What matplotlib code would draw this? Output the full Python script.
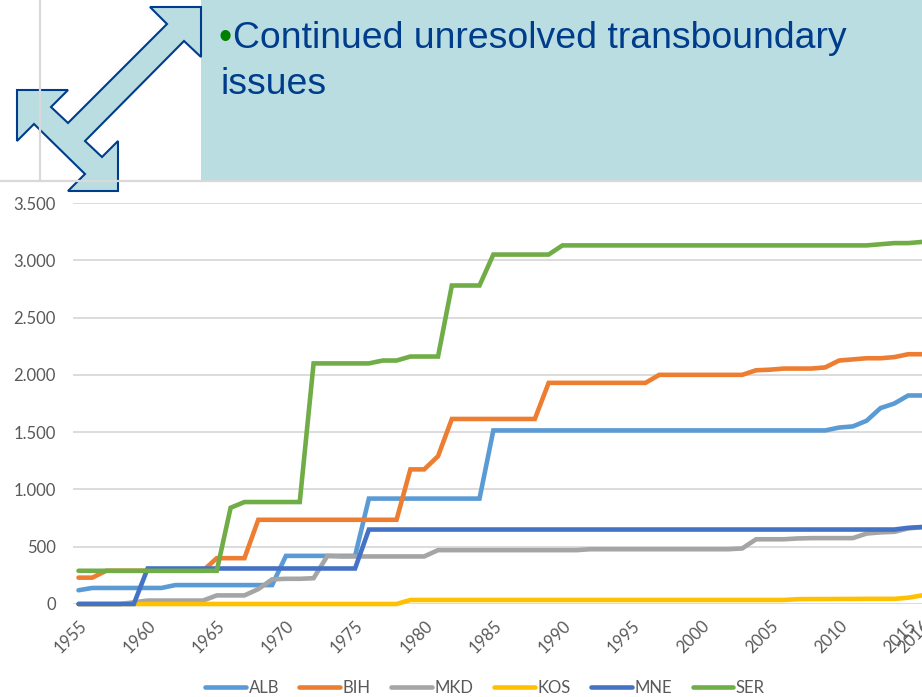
#! /usr/bin/python3

import matplotlib
matplotlib.use("Agg")
import matplotlib.pyplot as plt
from matplotlib.patches import Polygon, Rectangle
from matplotlib.transforms import ScaledTranslation

W = 922
H = 697

YEARS = list(range(1955, 2017))
TICK_YEARS = list(range(1955, 2016, 5)) + [2016]
Y_TICKS = [0, 500, 1000, 1500, 2000, 2500, 3000, 3500]
Y_LABELS = ["0", "500", "1.000", "1.500", "2.000", "2.500", "3.000", "3.500"]

ALB = [120, 140, 140, 140, 140, 140, 140, 165, 165, 165, 165, 165, 165, 165, 165,
       420, 420, 420, 420, 420, 420, 920, 920, 920, 920, 920, 920, 920, 920, 920,
       1515, 1515, 1515, 1515, 1515, 1515, 1515, 1515, 1515, 1515, 1515, 1515, 1515, 1515, 1515,
       1515, 1515, 1515, 1515, 1515, 1515, 1515, 1515, 1515, 1515,
       1540, 1550, 1600, 1710, 1750, 1820, 1820]
BIH = [230, 230, 290, 290, 290, 290, 290, 290, 290, 290, 400, 400, 400, 735, 735,
       735, 735, 735, 735, 735, 735, 735, 735, 735, 1175, 1175, 1290, 1615, 1615, 1615,
       1615, 1615, 1615, 1615, 1930, 1930, 1930, 1930, 1930, 1930, 1930, 1930, 2000, 2000, 2000,
       2000, 2000, 2000, 2000, 2040, 2045, 2055, 2055, 2055, 2065,
       2125, 2135, 2145, 2145, 2155, 2180, 2180]
MKD = [0, 0, 0, 0, 15, 30, 30, 30, 30, 30, 75, 75, 75, 130, 215,
       220, 220, 225, 420, 415, 415, 415, 415, 415, 415, 415, 470, 470, 470, 470,
       470, 470, 470, 470, 470, 470, 470, 478, 478, 478, 478, 478, 478, 478, 478,
       478, 478, 478, 485, 565, 565, 565, 572, 575, 575,
       575, 575, 615, 625, 630, 660, 670]
KOS = [0, 0, 0, 0, 0, 0, 0, 0, 0, 0, 0, 0, 0, 0, 0,
       0, 0, 0, 0, 0, 0, 0, 0, 0, 35, 35, 35, 35, 35, 35,
       35, 35, 35, 35, 35, 35, 35, 35, 35, 35, 35, 35, 35, 35, 35,
       35, 35, 35, 35, 35, 35, 35, 42, 43, 43,
       44, 44, 45, 45, 45, 55, 75]
MNE = [0, 0, 0, 0, 0, 310, 310, 310, 310, 310, 310, 310, 310, 310, 310,
       310, 310, 310, 310, 310, 310, 650, 650, 650, 650, 650, 650, 650, 650, 650,
       650, 650, 650, 650, 650, 650, 650, 650, 650, 650, 650, 650, 650, 650, 650,
       650, 650, 650, 650, 650, 650, 650, 650, 650, 650,
       650, 650, 650, 650, 650, 665, 672]
SER = [290, 290, 290, 290, 290, 290, 290, 290, 290, 290, 290, 840, 890, 890, 890,
       890, 890, 2100, 2100, 2100, 2100, 2100, 2125, 2125, 2160, 2160, 2160, 2780, 2780, 2780,
       3050, 3050, 3050, 3050, 3050, 3130, 3130, 3130, 3130, 3130, 3130, 3130, 3130, 3130, 3130,
       3130, 3130, 3130, 3130, 3130, 3130, 3130, 3130, 3130, 3130,
       3130, 3130, 3130, 3140, 3150, 3150, 3160]

SERIES = [("ALB", ALB, "#5B9BD5"), ("BIH", BIH, "#ED7D31"), ("MKD", MKD, "#A5A5A5"),
          ("KOS", KOS, "#FFC000"), ("MNE", MNE, "#4472C4"), ("SER", SER, "#70AD47")]

ARROW = [(150, 7), (201, 7), (201, 57), (184, 41), (85, 141), (102, 157), (118, 141),
         (118, 191), (68, 191), (85, 174), (34, 124), (17, 141), (17, 90), (68, 90),
         (51, 107), (68, 123), (167, 24)]

GRAY = "#595959"
GRID = "#D9D9D9"


def main():
    plt.rcParams["font.family"] = ["Lato", "DejaVu Sans"]
    fig = plt.figure(figsize=(W / 100, H / 100), dpi=100)

    ax = fig.add_axes([73 / W, 1 - 604 / H, (W - 73) / W, (604 - 203) / H])
    per_year = 13.82
    ax.set_xlim(1955 - 5.5 / per_year, 2016)
    ax.set_ylim(0, 3500)

    for name, vals, color in SERIES:
        ax.plot(YEARS, vals, color=color, lw=3.3, label=name, zorder=3,
                solid_joinstyle="miter", solid_capstyle="round", clip_on=False)

    ax.set_yticks(Y_TICKS)
    ax.set_yticklabels(Y_LABELS, fontsize=12, color=GRAY)
    ax.set_xticks(TICK_YEARS)
    ax.set_xticklabels(TICK_YEARS, fontsize=12, color=GRAY, rotation=45, ha="right",
                       va="top", rotation_mode="anchor")
    shift = ScaledTranslation(-2 / 100, 0, fig.dpi_scale_trans)
    for label in ax.get_xticklabels():
        label.set_transform(label.get_transform() + shift)
    ax.tick_params(axis="both", length=0)
    ax.tick_params(axis="x", pad=10)
    ax.tick_params(axis="y", pad=12.5)
    ax.grid(axis="y", color=GRID, lw=1.3, zorder=1)
    ax.set_axisbelow(True)
    for side in ax.spines:
        ax.spines[side].set_visible(False)

    fig.legend(loc="center", bbox_to_anchor=(485 / W, 1 - 688 / H), ncol=6, frameon=False,
               fontsize=12, labelcolor=GRAY, handlelength=2.45, handletextpad=0.15,
               columnspacing=1.23, borderpad=0)

    # slide content sitting above the chart, in pixel coordinates
    top = fig.add_axes([0, 0, 1, 1], facecolor="none")
    top.set_xlim(0, W)
    top.set_ylim(H, 0)
    top.axis("off")
    top.plot([40, 40], [0, 181], color=GRID, lw=1.6)
    top.plot([0, W], [181, 181], color=GRID, lw=1.6)
    top.add_patch(Rectangle((201, 0), W - 201, 181, facecolor="#B9DDE1", edgecolor="none"))
    top.add_patch(Polygon(ARROW, closed=True, facecolor="#B9DDE1", edgecolor="#003C8C", lw=1.5))

    blue = "#003C8C"
    sans = ["Liberation Sans", "DejaVu Sans"]
    top.text(218, 39, "\u2022", color="#008000", fontsize=27, family=sans, va="center")
    top.text(233, 39, "Continued unresolved transboundary", color=blue, fontsize=26.9,
             family=sans, va="center")
    top.text(220, 84, "issues", color=blue, fontsize=26.9, family=sans, va="center")

    fig.savefig("out.png", dpi=100)


if __name__ == "__main__":
    main()
